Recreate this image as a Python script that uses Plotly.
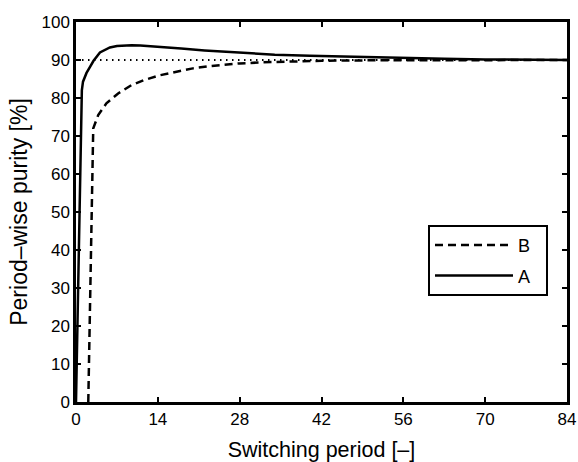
import plotly.graph_objects as go

# Curve A (solid)
a_x = [0, 1.0, 1.2, 1.8, 2.4, 3.0, 4.1, 5.0, 5.8, 7.0, 8.1, 9.5, 11, 14, 18, 22, 28, 34, 40, 45, 50, 56, 63, 70, 77, 84]
a_y = [0, 82.0, 84.3, 86.6, 88.2, 89.8, 92.0, 92.8, 93.3, 93.7, 93.85, 93.9, 93.8, 93.5, 93.0, 92.5, 91.9, 91.4, 91.1, 90.9, 90.7, 90.5, 90.3, 90.15, 90.05, 90.0]

# Curve B (dashed)
b_x = [2.1, 2.95, 3.8, 5.2, 7.2, 9.5, 11.8, 14.4, 17.2, 20, 22.9, 26, 28, 32, 36, 42, 49, 56, 70, 84]
b_y = [0, 72.0, 75.5, 78.6, 81.2, 83.4, 84.8, 86.0, 86.9, 87.8, 88.4, 88.85, 89.1, 89.4, 89.6, 89.8, 89.9, 89.95, 90.0, 90.0]

# Reference level (dotted)
ref_x = [0, 84]
ref_y = [90, 90]

x_ticks = [0, 14, 28, 42, 56, 70, 84]
y_ticks = [0, 10, 20, 30, 40, 50, 60, 70, 80, 90, 100]

FONT = "Liberation Sans, Arial, Helvetica, sans-serif"
PAD = "\u00a0\u00a0"

fig = go.Figure()
fig.add_trace(go.Scatter(x=ref_x, y=ref_y, mode="lines", showlegend=False,
                         line=dict(color="black", width=2, dash="1.5px,4.5px")))
fig.add_trace(go.Scatter(x=b_x, y=b_y, mode="lines", name="B" + PAD, legendgroup="b",
                         line=dict(color="black", width=2.5, dash="8px,5px")))
fig.add_trace(go.Scatter(x=a_x, y=a_y, mode="lines", name="A" + PAD, legendgroup="a",
                         line=dict(color="black", width=2.5)))

axis_common = dict(
    showgrid=False, zeroline=False, showline=True, linecolor="black", linewidth=2.5,
    mirror="ticks", ticks="inside", ticklen=5, tickwidth=1.5, tickcolor="black",
    tickfont=dict(family=FONT, size=17, color="black"), automargin=False,
)

fig.update_layout(
    width=578, height=462,
    margin=dict(l=76, r=11, t=22, b=60),
    paper_bgcolor="white", plot_bgcolor="white",
    font=dict(family=FONT, color="black"),
    xaxis=dict(range=[0, 84], tickvals=x_ticks, ticktext=[str(v) for v in x_ticks],
               title=dict(text="Switching period [–]", font=dict(family=FONT, size=21.5), standoff=16),
               **axis_common),
    yaxis=dict(range=[0, 100], tickvals=y_ticks, ticktext=[str(v) for v in y_ticks],
               title=dict(text="Period–wise purity [%]", font=dict(family=FONT, size=23), standoff=8),
               **axis_common),
    legend=dict(x=0.7169, y=0.466, xanchor="left", yanchor="top",
                bgcolor="white", bordercolor="black", borderwidth=2,
                font=dict(family=FONT, size=18, color="black"),
                itemwidth=78, tracegroupgap=4, traceorder="grouped"),
)

fig.write_html("out.html")
